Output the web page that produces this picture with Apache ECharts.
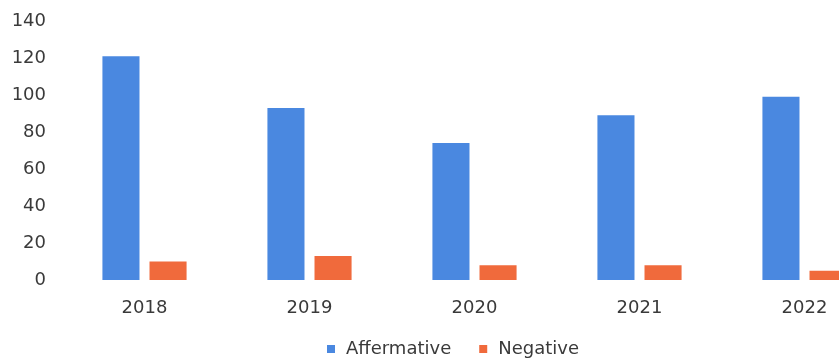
<!DOCTYPE html>
<html>
<head>
<meta charset="utf-8">
<script src="https://cdn.jsdelivr.net/npm/echarts@6/dist/echarts.min.js"></script>
<style>
  html, body { margin: 0; padding: 0; background: #fff; }
  #main { width: 839px; height: 364px; }
</style>
</head>
<body>
<div id="main"></div>
<script>
// data
var years = ['2018', '2019', '2020', '2021', '2022'];
var affermative = [121, 93, 74, 89, 99];
var negative = [10, 13, 8, 8, 5];

var myChart = echarts.init(document.getElementById('main'));
var font = 'DejaVu Sans';

option = {
    animation: false,
    textStyle: { fontFamily: font },
    grid: {
        left: 62,
        width: 825,
        top: 21,
        bottom: 84,
        outerBoundsMode: 'none'
    },
    legend: {
        bottom: 1,
        left: 322,
        itemWidth: 8,
        itemHeight: 8,
        itemGap: 28,
        icon: 'rect',
        textStyle: { color: '#3a3a3a', fontSize: 18, fontFamily: font, padding: [0, 0, 0, 6] },
        data: ['Affermative', 'Negative']
    },
    xAxis: {
        type: 'category',
        data: years,
        axisLine: { show: false },
        axisTick: { show: false },
        axisLabel: { color: '#3a3a3a', fontSize: 18, margin: 19, fontFamily: font }
    },
    yAxis: {
        type: 'value',
        min: 0,
        max: 140,
        interval: 20,
        splitLine: { show: false },
        axisLine: { show: false },
        axisTick: { show: false },
        axisLabel: { color: '#3a3a3a', fontSize: 18, margin: 16, fontFamily: font }
    },
    series: [
        {
            name: 'Affermative',
            type: 'bar',
            data: affermative,
            barGap: '27%',
            barCategoryGap: '49%',
            itemStyle: { color: '#4A88E0' }
        },
        {
            name: 'Negative',
            type: 'bar',
            data: negative,
            itemStyle: { color: '#F06A3C' }
        }
    ]
};

myChart.setOption(option);
</script>
</body>
</html>
